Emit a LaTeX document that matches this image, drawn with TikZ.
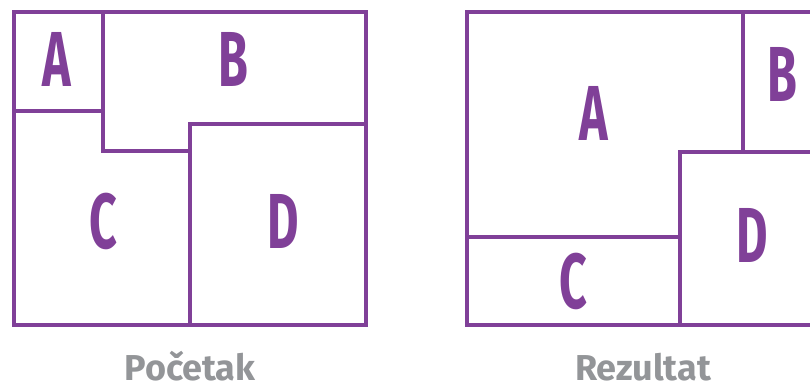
\documentclass[tikz,border=0pt]{standalone}
\usepackage{fontspec}
\usepackage{graphicx}
\setmainfont{Fira Sans}
\definecolor{pur}{RGB}{128,64,152}
\definecolor{capgray}{RGB}{147,149,152}
\newcommand\condtext[1]{\scalebox{0.62}[1]{#1}}
\tikzset{
  wall/.style={draw=pur, line width=3.6pt, line cap=rect, line join=miter},
  letter/.style={anchor=base, text=pur, font=\fontsize{78}{78}\selectfont\bfseries, inner sep=0pt},
  caption/.style={anchor=base, text=capgray, font=\fontsize{36}{36}\selectfont\bfseries, inner sep=0pt}
}
\begin{document}
\begin{tikzpicture}[x=1pt,y=-1pt]
\useasboundingbox (0,0) rectangle (810,385);
\begin{scope}
\clip (0,0) rectangle (810,385);
% left: Pocetak
\draw[wall] (14,12) rectangle (366,325);
\draw[wall] (103,12) -- (103,151) -- (190,151);
\draw[wall] (14,111) -- (103,111);
\draw[wall] (366,124) -- (190,124) -- (190,325);
% right: Rezultat
\draw[wall] (815,12) -- (467,12) -- (467,325) -- (815,325);
\draw[wall] (743,12) -- (743,152);
\draw[wall] (815,152) -- (680,152) -- (680,325);
\draw[wall] (467,237) -- (680,237);
\end{scope}
\node[letter] (lA) at (57,87) {\condtext{A}};
\node[letter] (lB) at (233,87) {\condtext{B}};
\node[letter] (lC) at (103,248) {\condtext{C}};
\node[letter] (lD) at (283,248) {\condtext{D}};
\node[letter] (rA) at (594,140) {\condtext{A}};
\node[letter] (rB) at (782,102) {\condtext{B}};
\node[letter] (rC) at (573,308) {\condtext{C}};
\node[letter] (rD) at (752,262) {\condtext{D}};
\node[caption] (cap1) at (190,380) {Početak};
\node[caption] (cap2) at (643,380) {Rezultat};
\end{tikzpicture}
\end{document}
